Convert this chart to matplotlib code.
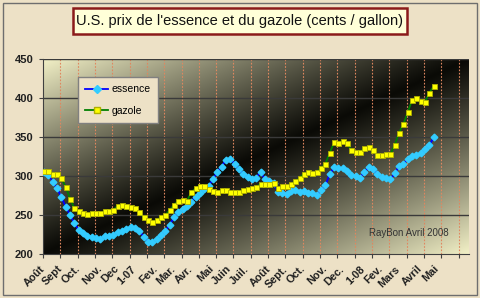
import numpy as np
import matplotlib.pyplot as plt
from matplotlib.patches import Rectangle
from matplotlib.lines import Line2D

plt.rcParams['font.family'] = ['Liberation Sans', 'DejaVu Sans']

# weekly prices, cents / gallon
essence = [305.5, 301.3, 292.7, 284.2, 272.7, 260.7, 250, 239.3, 230.8, 226.5,
           223.1, 221.4, 220.5, 218.8, 223.1, 223.1, 224.4, 228.6, 229.9, 231.6,
           235, 233.8, 229.9, 222.2, 215.8, 215.8, 218.8, 224.4, 229.5, 237.2,
           247, 254.3, 257.3, 261.5, 267.1, 273.5, 277.8, 282.9, 287.2, 295.7,
           305.5, 311.9, 321, 322, 316, 308.6, 302.6, 299, 295.7, 298,
           305.5, 295.7, 294, 291.4, 280, 278.6, 277, 281, 282, 280,
           281, 278.6, 277.8, 275.6, 282, 288.5, 302.6, 311, 310, 310,
           306.8, 301, 300, 298, 305.5, 311, 308.6, 302.6, 299, 298,
           296, 303.4, 312.8, 316, 321.4, 325.6, 327, 329, 334, 339.7, 349.6]
gazole = [306, 306, 303, 302.6, 297, 286, 271, 258.5, 255.5, 252,
          251, 253, 253, 252, 255.5, 255.5, 256, 262, 263, 261.5,
          260, 258.5, 254, 247, 243.6, 241.4, 243.6, 247, 250, 256,
          263, 268, 269, 268, 279, 284, 287.6, 287, 283, 281,
          279, 282, 282, 280, 279, 280, 282, 283, 284, 286,
          290, 290, 290, 291, 284, 287, 287, 290, 293, 297,
          303, 305, 304, 305, 310, 316, 330, 343, 342, 345,
          342, 333, 331, 331, 335.5, 336.7, 333, 327, 327, 328,
          328, 340, 355.5, 366.7, 381.6, 397.4, 399.6, 396, 395, 406.8, 415]
weeks = np.arange(len(essence)) + 0.25

month_labels = ['Août', 'Sept', 'Oct.', 'Nov.', 'Dec', '1-07', 'Fev.', 'Mar.', 'Avr.',
                'Mai', 'Juin', 'Juil.', 'Août', 'Sept.', 'Oct.', 'Nov.', 'Dec.', '1-08',
                'Fev.', 'Mars', 'Avril', 'Mai']
month_weeks = [0, 4, 8, 13, 17, 21, 26, 30, 34, 39, 43, 47, 52, 56, 60, 65, 69, 74,
               78, 82, 87, 91]
y_ticks = [200, 250, 300, 350, 400, 450]

W, H = 480, 298


def fbox(x0, y0, x1, y1):
    # pixel box -> figure fraction [left, bottom, width, height]
    return [x0 / W, 1 - y1 / H, (x1 - x0) / W, (y1 - y0) / H]


fig = plt.figure(figsize=(4.8, 2.98), dpi=100)
fig.patch.set_facecolor('#EDE1C6')

# outer frame and title box
fig.patches.append(Rectangle(fbox(3, 3, 477, 295)[:2], 474 / W, 292 / H, fill=False,
                             edgecolor='#6E6E6E', lw=1, transform=fig.transFigure))
tb = fbox(73, 8, 407, 34)
fig.patches.append(Rectangle(tb[:2], tb[2], tb[3], facecolor='#FFFFD8', edgecolor='#8B1A1A',
                             lw=1.8, transform=fig.transFigure))
fig.text(240 / W, 1 - 21.5 / H, "U.S. prix de l'essence et du gazole (cents / gallon)",
         ha='center', va='center', fontsize=10.5, color='#111111')

ax = fig.add_axes(fbox(43, 59, 469, 254))

# diagonal gradient of the plot area
u = np.linspace(0, 1, 426)
v = np.linspace(0, 1, 195)
U, V = np.meshgrid(u, v)
d = (np.abs(U - V) ** 1.1)[..., None]
light = np.array([242, 240, 198]) / 255
dark = np.array([10, 10, 6]) / 255
ax.imshow(dark + (light - dark) * d, extent=[0, 1, 0, 1], transform=ax.transAxes,
          origin='lower', aspect='auto', zorder=0)

ax.set_xlim(0, 98.4)
ax.set_ylim(200, 450)

for k in range(1, 25):
    ax.axvline(4 * k, color='#E0875F', lw=0.8, ls=(0, (1.5, 1.5)), zorder=1)
for yv in y_ticks[1:]:
    ax.axhline(yv, color='#3A3A3A', lw=1, zorder=1)

ax.plot(weeks, essence, color='#0000FF', lw=1.4, marker='D', ms=3.4,
        mfc='#33CCFF', mec='#33CCFF', zorder=3)
ax.plot(weeks, gazole, color='#008000', lw=1.3, marker='s', ms=3.6,
        mfc='#FFFF00', mec='#B0B000', mew=0.6, zorder=4)

ax.set_yticks(y_ticks)
ax.set_yticklabels([str(t) for t in y_ticks], fontsize=8, fontweight='bold', color='#202020')
ax.set_xticks([4 * k for k in range(25)])
ax.set_xticklabels([])
ax.tick_params(axis='both', length=3, color='#404040', pad=4)
for s in ['top', 'right']:
    ax.spines[s].set_visible(False)
for s in ['left', 'bottom']:
    ax.spines[s].set_color('#404040')

for lab, w in zip(month_labels, month_weeks):
    ax.text(w - 0.7, -0.05, lab, transform=ax.get_xaxis_transform(), rotation=45,
            rotation_mode='anchor', ha='right', va='top', fontsize=7.8,
            fontweight='bold', color='#202020')

ax.text(0.859, 0.108, 'RayBon Avril 2008', transform=ax.transAxes, fontsize=7,
        color='#333333', ha='center', va='center')

handles = [Line2D([], [], color='#0000FF', lw=1.3, marker='D', ms=4, mfc='#33CCFF', mec='#33CCFF'),
           Line2D([], [], color='#008000', lw=1.3, marker='s', ms=4, mfc='#FFFF00', mec='#B0B000')]
leg = ax.legend(handles, ['essence', 'gazole'], loc='upper left',
                bbox_to_anchor=(78 / W, 1 - 77 / H), bbox_transform=fig.transFigure,
                fontsize=7.5, frameon=True, fancybox=False, labelspacing=1.1,
                handlelength=2.2, handletextpad=0.3, borderpad=0.7, borderaxespad=0)
leg.get_frame().set_facecolor('#EDE1C6')
leg.get_frame().set_edgecolor('#808080')
leg.get_frame().set_alpha(1)

fig.savefig('out.png', dpi=100, facecolor=fig.get_facecolor())
